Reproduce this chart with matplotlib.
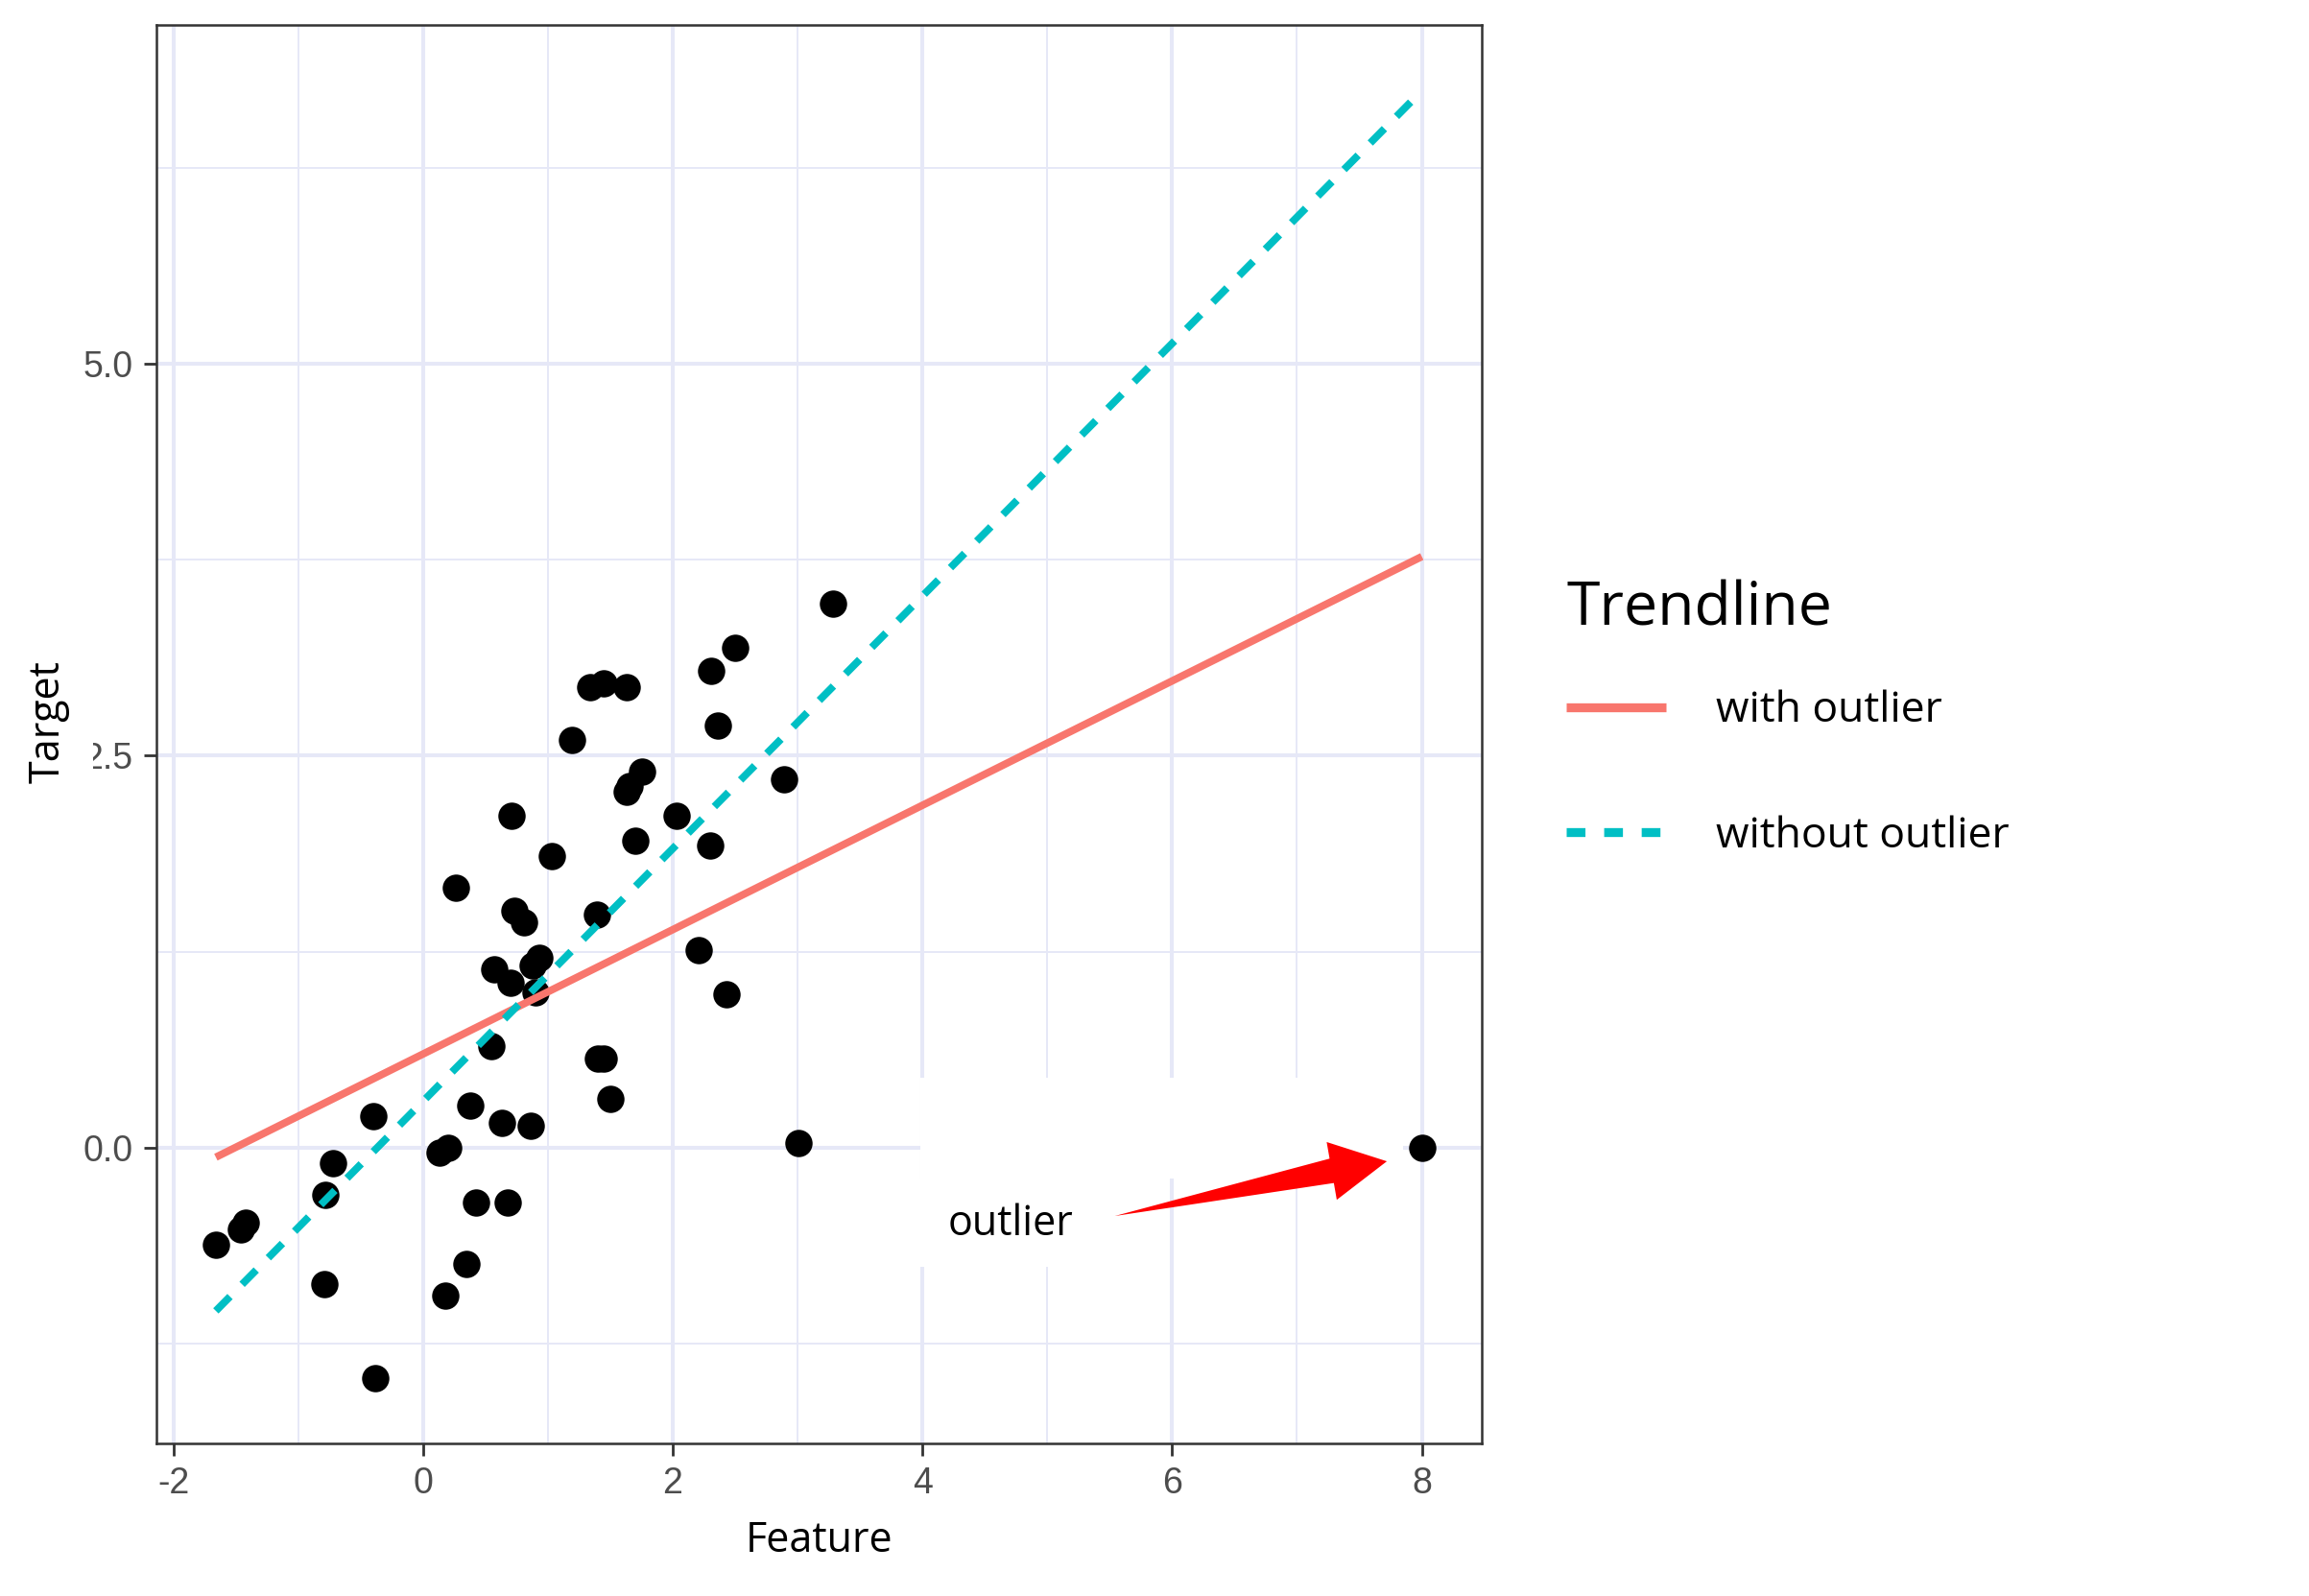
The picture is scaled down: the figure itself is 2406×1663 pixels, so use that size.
import matplotlib
matplotlib.use("Agg")
import matplotlib.pyplot as plt
from matplotlib.patches import FancyArrowPatch, Rectangle
from matplotlib.lines import Line2D

plt.rcParams['axes.unicode_minus'] = False

# ---- data ----
feature = [-1.66, -1.46, -1.42, -0.78, -0.72, -0.79, -0.40, -0.38, 0.13, 0.20,
           0.18, 0.35, 0.38, 0.26, 0.42, 0.55, 0.57, 0.63, 0.68, 0.70,
           0.71, 0.73, 0.81, 0.86, 0.88, 0.93, 0.90, 1.03, 1.19, 1.34,
           1.45, 1.63, 1.39, 1.40, 1.45, 1.50, 1.63, 1.65, 1.75, 1.70,
           2.03, 2.21, 2.30, 2.31, 2.36, 2.43, 2.50, 2.89, 3.01, 3.28, 8.00]
target = [-0.62, -0.52, -0.48, -0.30, -0.10, -0.87, 0.20, -1.47, -0.03, 0.00,
          -0.94, -0.74, 0.27, 1.66, -0.35, 0.65, 1.14, 0.16, -0.35, 1.05,
          2.12, 1.51, 1.44, 0.14, 1.16, 1.21, 0.99, 1.86, 2.60, 2.94,
          2.96, 2.94, 1.49, 0.57, 0.57, 0.31, 2.27, 2.31, 2.40, 1.96,
          2.12, 1.26, 1.93, 3.04, 2.69, 0.98, 3.19, 2.35, 0.03, 3.47, 0.00]

trend_x = [-1.66, 8.00]
with_outlier_y = [-0.06, 3.77]
without_outlier_y = [-1.04, 6.74]

x_ticks = [-2, 0, 2, 4, 6, 8]
x_tick_labels = ["-2", "0", "2", "4", "6", "8"]
y_ticks = [0.0, 2.5, 5.0]
y_tick_labels = ["0.0", "2.5", "5.0"]
x_minor = [-1, 1, 3, 5, 7]
y_minor = [-1.25, 1.25, 3.75, 6.25]

legend_title = "Trendline"
legend_labels = ["with outlier", "without outlier"]

RED = "#F8766D"
CYAN = "#00BFC4"
GRID = "#E6E8F7"
TXT_FONT = ["Open Sans", "DejaVu Sans"]
TICK_FONT = ["Liberation Sans", "DejaVu Sans"]

W, H = 2406, 1663
fig = plt.figure(figsize=(W / 100, H / 100), dpi=100)
ax = fig.add_axes([163 / W, 1 - 1504 / H, (1544 - 163) / W, (1504 - 26) / H])

ax.set_xlim(-2.136, 8.48)
ax.set_ylim(-1.885, 7.16)

# grid
ax.set_xticks(x_ticks)
ax.set_xticklabels(x_tick_labels)
ax.set_yticks(y_ticks)
ax.set_yticklabels(y_tick_labels)
ax.set_xticks(x_minor, minor=True)
ax.set_yticks(y_minor, minor=True)
ax.grid(which='major', color=GRID, linewidth=2.9, zorder=0)
ax.grid(which='minor', color=GRID, linewidth=1.4, zorder=0)
ax.set_axisbelow(True)
ax.tick_params(which='minor', length=0)
ax.tick_params(which='major', length=9.5, width=2.0, color="#333333",
               labelcolor="#4D4D4D", labelsize=27, pad=8)
for lab in ax.get_xticklabels() + ax.get_yticklabels():
    lab.set_family(TICK_FONT)
for sp in ax.spines.values():
    sp.set_color("#333333")
    sp.set_linewidth(1.8)

# white annotation backdrop
ax.add_patch(Rectangle((3.985, -0.196), 7.85 - 3.985, 0.447 + 0.196,
                       facecolor="white", edgecolor="none", zorder=1))
ax.add_patch(Rectangle((3.96, -0.759), 5.52 - 3.96, 0.759 - 0.196,
                       facecolor="white", edgecolor="none", zorder=1))

# points
ax.scatter(feature, target, s=420, color="black", linewidths=0, zorder=3)

# trendlines
ax.plot(trend_x, with_outlier_y, color=RED, linewidth=5.6,
        solid_capstyle='butt', zorder=4, label=legend_labels[0])
ax.plot(trend_x, without_outlier_y, color=CYAN, linewidth=5.6,
        dashes=(2.7, 2.3), dash_capstyle='butt', zorder=5,
        label=legend_labels[1])

# annotation
ax.text(4.2, -0.56, "outlier", fontsize=31, family=TXT_FONT,
        color="black", ha="left", va="baseline", zorder=6)
# tapered shaft (point at the tail, wide at the head)
shaft = FancyArrowPatch((7.32, -0.140), (5.54, -0.435),
                        arrowstyle="wedge,tail_width=0.19,shrink_factor=0.5",
                        mutation_scale=100, color="#FF0000", linewidth=0,
                        shrinkA=0, shrinkB=0, zorder=6)
ax.add_patch(shaft)
head = FancyArrowPatch((7.26, -0.150), (7.72, -0.086),
                       arrowstyle="simple,head_length=0.42,head_width=0.44,tail_width=0.17",
                       mutation_scale=100, color="#FF0000", linewidth=0,
                       shrinkA=0, shrinkB=0, zorder=6)
ax.add_patch(head)

# axis labels
ax.set_xlabel("Feature", fontsize=31, family=TXT_FONT, color="black", labelpad=14)
ax.set_ylabel("Target", fontsize=31, family=TXT_FONT, color="black",
              va="center",
              bbox=dict(facecolor="white", edgecolor="none", pad=18))
ax.yaxis.set_label_coords((50 - 163) / 1381, 1 - (752 - 26) / 1478)

# legend
handles = [Line2D([], [], color=RED, linewidth=6.7, solid_capstyle='butt'),
           Line2D([], [], color=CYAN, linewidth=6.7, dashes=(2.1, 2.1),
                  dash_capstyle='butt')]
leg = fig.legend(handles, legend_labels, title=legend_title,
                 loc="upper left", bbox_to_anchor=(1632 / W, 1 - 604 / H),
                 frameon=False, borderpad=0, borderaxespad=0,
                 handlelength=2.35, handletextpad=1.15, labelspacing=1.94,
                 prop={'family': TXT_FONT, 'size': 32},
                 title_fontproperties={'family': TXT_FONT, 'size': 45},
                 alignment='left')
leg._legend_box.sep = 37.5

fig.savefig("out.png", dpi=100, facecolor="white")
